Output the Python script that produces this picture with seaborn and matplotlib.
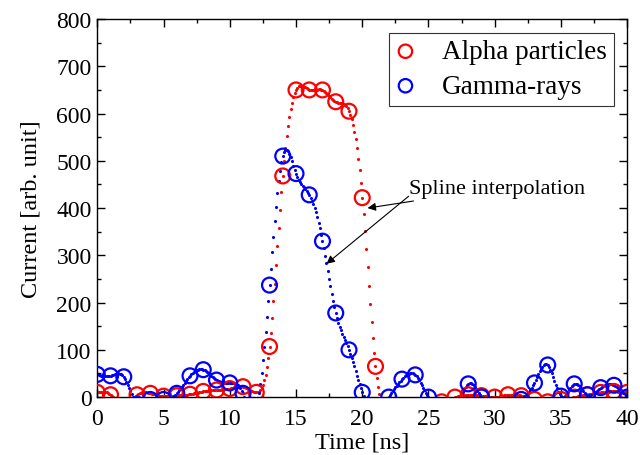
import numpy as np
import pandas as pd
import matplotlib
matplotlib.use("Agg")
import matplotlib.pyplot as plt
from matplotlib.ticker import MultipleLocator
import seaborn as sns

# 采样时间 [ns]
time_ns = list(range(0, 41))

# alpha 粒子电流
alpha_current = [10, 5, -20, 5, 8, 2, 3, 6, 12, 15,
                 18, 22, 10, 107, 468, 650, 650, 650, 625, 605,
                 422, 65, -30, -20, -30, -20, -10, 0, 5, 3,
                 0, 5, 3, -5, -10, -5, 0, 5, 10, 12, 10]

# gamma 射线电流
gamma_current = [48, 45, 43, -15, -5, -5, 8, 45, 58, 36,
                 30, 8, -20, 237, 510, 473, 428, 330, 178, 100,
                 10, -30, 0, 38, 47, 0, -20, -25, 28, 0,
                 -20, -20, -5, 30, 68, 2, 28, 5, 20, 25, 0]

series_names = ["Alpha particles", "Gamma-rays"]
series_colors = ["#ff0000", "#0000ff"]


def natural_spline(x, y, step=0.1):
    # 自然三次样条插值
    x = np.asarray(x, dtype=float)
    y = np.asarray(y, dtype=float)
    n = len(x)
    h = np.diff(x)
    A = np.zeros((n, n))
    b = np.zeros(n)
    A[0, 0] = A[-1, -1] = 1.0
    for i in range(1, n - 1):
        A[i, i - 1] = h[i - 1]
        A[i, i] = 2 * (h[i - 1] + h[i])
        A[i, i + 1] = h[i]
        b[i] = 6 * ((y[i + 1] - y[i]) / h[i] - (y[i] - y[i - 1]) / h[i - 1])
    M = np.linalg.solve(A, b)
    xs = np.arange(x[0], x[-1] + step / 2, step)
    idx = np.clip(np.searchsorted(x, xs) - 1, 0, n - 2)
    x0, x1 = x[idx], x[idx + 1]
    hh = x1 - x0
    t0, t1 = x1 - xs, xs - x0
    ys = (M[idx] * t0 ** 3 / (6 * hh) + M[idx + 1] * t1 ** 3 / (6 * hh)
          + (y[idx] / hh - M[idx] * hh / 6) * t0
          + (y[idx + 1] / hh - M[idx + 1] * hh / 6) * t1)
    return xs, ys


sns.set_theme(style="ticks")
plt.rcParams["font.family"] = ["Liberation Serif", "DejaVu Serif"]
plt.rcParams["text.color"] = "black"
plt.rcParams["axes.labelcolor"] = "black"

fig = plt.figure(figsize=(6.4, 4.56), dpi=100)
ax = fig.add_axes([0.152, 0.127, 0.828, 0.829])

for name, color, values in zip(series_names, series_colors, [alpha_current, gamma_current]):
    xs, ys = natural_spline(time_ns, values)
    spline_df = pd.DataFrame({"t": xs, "i": ys})
    sns.scatterplot(data=spline_df, x="t", y="i", ax=ax, color=color, s=5,
                    linewidth=0, legend=False, zorder=2)

for name, color, values in zip(series_names, series_colors, [alpha_current, gamma_current]):
    df = pd.DataFrame({"t": time_ns, "i": values})
    sns.scatterplot(data=df, x="t", y="i", ax=ax, marker="o", s=115,
                    facecolors="none", edgecolor=color, linewidth=1.6,
                    label=name, zorder=3)

ax.set_xlim(0, 40)
ax.set_ylim(0, 800)
ax.xaxis.set_major_locator(MultipleLocator(5))
ax.xaxis.set_minor_locator(MultipleLocator(2.5))
ax.yaxis.set_major_locator(MultipleLocator(100))
ax.yaxis.set_minor_locator(MultipleLocator(50))
ax.tick_params(which="both", direction="in", top=True, right=True,
               labelsize=17, colors="black", width=1)
ax.tick_params(which="major", length=6)
ax.tick_params(which="minor", length=3)
ax.tick_params(axis="x", which="major", pad=8)
ax.tick_params(axis="y", which="major", pad=4)
for sp in ax.spines.values():
    sp.set_color("black")
    sp.set_linewidth(1)

ax.set_xlabel("Time [ns]", fontsize=17.5, labelpad=2)
ax.set_ylabel("Current [arb. unit]", fontsize=17.5, labelpad=11)

leg = ax.legend(loc="upper right", fontsize=19.5, frameon=True, fancybox=False,
                edgecolor="black", borderaxespad=0.5, handletextpad=1.0,
                borderpad=0.25, labelspacing=0.35, markerscale=0.9,
                handlelength=0.7)
leg.get_frame().set_linewidth(0.8)

ax.annotate("Spline interpolation", xy=(20.4, 400), xytext=(23.5, 442),
            fontsize=16, ha="left", va="center",
            arrowprops=dict(arrowstyle="-|>", color="black", lw=0.8,
                            shrinkA=0, shrinkB=0, mutation_scale=12))
ax.annotate("", xy=(17.3, 282), xytext=(23.5, 425),
            arrowprops=dict(arrowstyle="-|>", color="black", lw=0.8,
                            shrinkA=0, shrinkB=0, mutation_scale=12))

fig.savefig("out.png", dpi=100)
